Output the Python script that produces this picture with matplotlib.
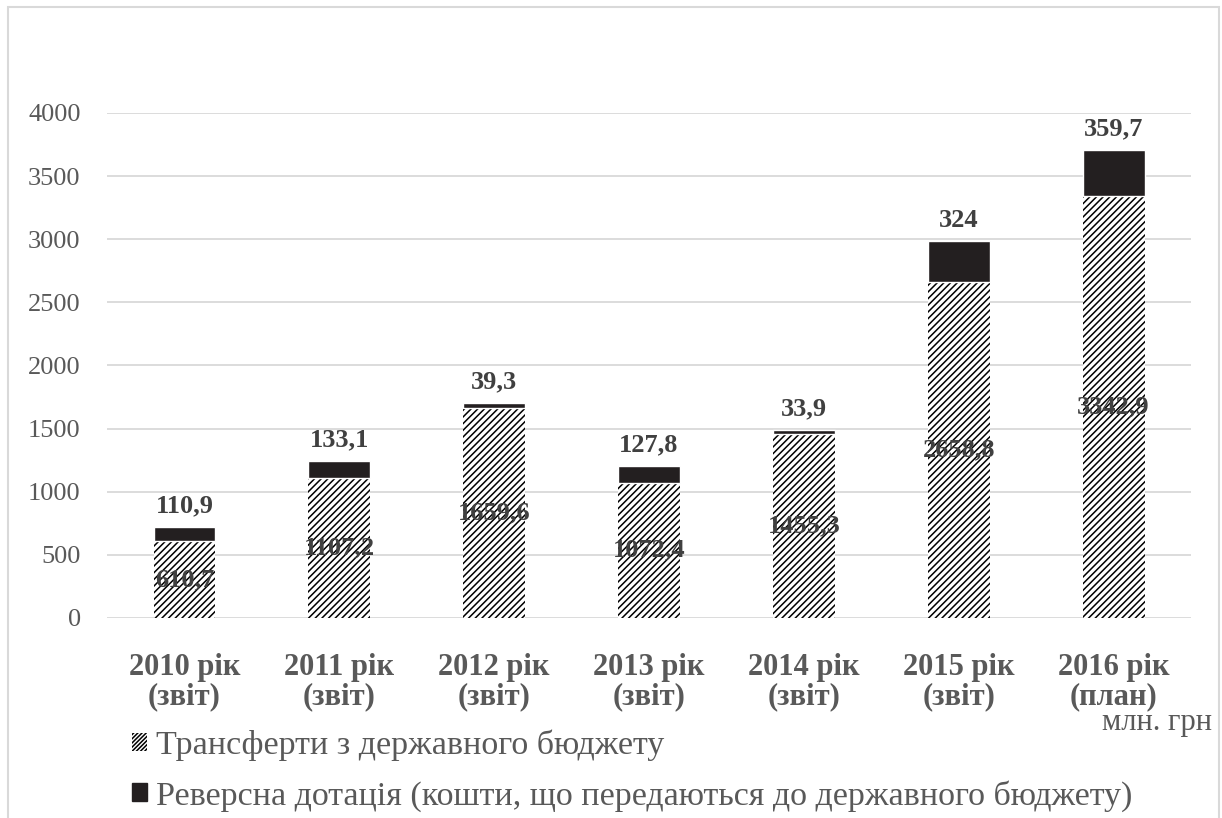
import matplotlib.pyplot as plt
from matplotlib.patches import Patch, Rectangle

plt.rcParams['font.family'] = ['Liberation Serif', 'DejaVu Serif']
plt.rcParams['hatch.linewidth'] = 1.1

categories = ["2010 рік\n(звіт)", "2011 рік\n(звіт)", "2012 рік\n(звіт)", "2013 рік\n(звіт)",
              "2014 рік\n(звіт)", "2015 рік\n(звіт)", "2016 рік\n(план)"]
transfers = [610.7, 1107.2, 1659.6, 1072.4, 1455.3, 2658.8, 3342.9]
reverse = [110.9, 133.1, 39.3, 127.8, 33.9, 324, 359.7]
yticks = [0, 500, 1000, 1500, 2000, 2500, 3000, 3500, 4000]

GRAY = "#595959"
DARK = "#404040"


def fmt(v):
    s = f"{v:g}"
    return s.replace(".", ",")


fig = plt.figure(figsize=(12.22, 8.18), dpi=100)
ax = fig.add_axes([0.0876, 0.2445, 0.887, 0.6175])

x = range(len(categories))
b1 = ax.bar(x, transfers, width=0.4, color="white", edgecolor="black",
            linewidth=0, hatch="/////", zorder=2)
b2 = ax.bar(x, reverse, width=0.4, bottom=transfers, color="#231f20",
            edgecolor="white", linewidth=1.0, zorder=2)

ax.bar_label(b1, labels=[fmt(v) for v in transfers], label_type="center",
             fontsize=19, fontweight="bold", color=DARK)
ax.bar_label(b2, labels=[fmt(v) for v in reverse], padding=7,
             fontsize=19, fontweight="bold", color=DARK)

ax.set_xlim(-0.5, len(categories) - 0.5)
ax.set_ylim(0, 4000)
ax.set_yticks(yticks)
ax.set_xticks(list(x))
ax.set_xticklabels(categories, fontsize=22, fontweight="bold", color=GRAY, linespacing=1.03)
ax.tick_params(axis="y", length=0, pad=19, labelsize=19, labelcolor=GRAY)
ax.tick_params(axis="x", length=0, pad=25)
for s in ax.spines.values():
    s.set_visible(False)
ax.grid(axis="y", color="#d9d9d9", linewidth=1.3, zorder=0)
ax.set_axisbelow(True)

handles = [Patch(facecolor="white", edgecolor="black", linewidth=0, hatch="////////"),
           Patch(facecolor="#231f20", edgecolor="#231f20")]
fig.legend(handles, ["Трансферти з державного бюджету",
                     "Реверсна дотація (кошти, що передаються до державного бюджету)"],
           loc="upper left", bbox_to_anchor=(0.108, 0.108),
           frameon=False, fontsize=24.5, labelcolor=GRAY, handlelength=0.45,
           handleheight=0.45, handletextpad=0.25, labelspacing=0.55,
           borderaxespad=0, borderpad=0)

fig.text(0.992, 0.108, "млн. грн", fontsize=22, color=GRAY, ha="right", va="baseline")

fig.add_artist(Rectangle((8 / 1222, -0.05), (1219 - 8) / 1222, 1.05 - 7 / 818,
                         transform=fig.transFigure, fill=False,
                         edgecolor="#d9d9d9", linewidth=1.5))

fig.savefig("out.png", dpi=100)
